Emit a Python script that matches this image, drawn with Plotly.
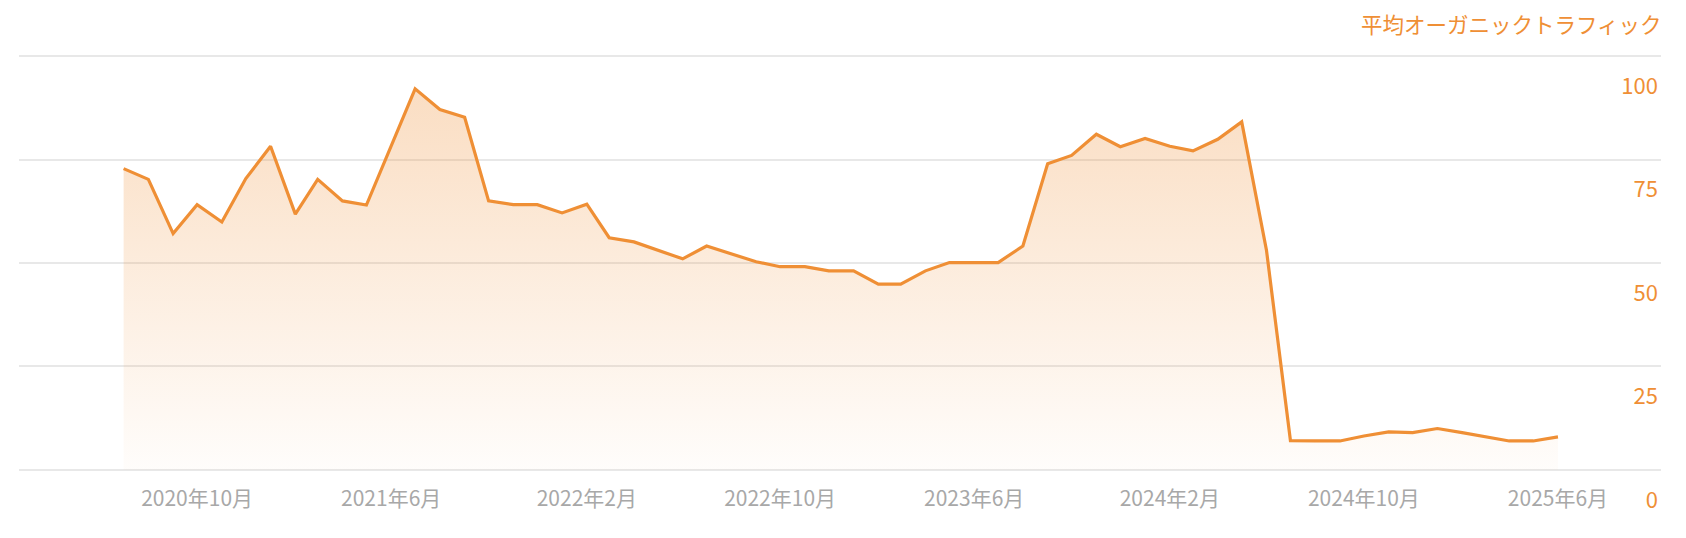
import pandas as pd
import plotly.graph_objects as go

# Monthly data, 2020-07 .. 2025-06
months = pd.date_range("2020-07-01", periods=60, freq="MS")
traffic = [72.8, 70.2, 57.1, 64.1, 59.9, 70.4, 78.2, 61.8, 70.2, 65.0,
           64.0, 78.1, 92.1, 87.1, 85.2, 65.0, 64.1, 64.1, 62.1, 64.2,
           56.1, 55.1, 53.1, 51.0, 54.1, 52.1, 50.3, 49.1, 49.1, 48.1,
           48.1, 44.9, 44.9, 48.1, 50.1, 50.1, 50.1, 54.1, 74.0, 76.0,
           81.1, 78.1, 80.1, 78.2, 77.1, 79.9, 84.1, 53.1, 7.1, 7.0,
           7.0, 8.2, 9.2, 9.0, 10.0, 9.0, 8.0, 7.0, 7.0, 8.0]

x_tickvals = ["2020-10-01", "2021-06-01", "2022-02-01", "2022-10-01",
              "2023-06-01", "2024-02-01", "2024-10-01", "2025-06-01"]
x_ticktext = ["2020年10月", "2021年6月", "2022年2月", "2022年10月",
              "2023年6月", "2024年2月", "2024年10月", "2025年6月"]
y_tickvals = [0, 25, 50, 75, 100]
title_text = "平均オーガニックトラフィック"

ORANGE = "#EF8F35"
FONT = "Noto Sans CJK JP"

fig = go.Figure()
fig.add_trace(go.Scatter(
    x=months, y=traffic, mode="lines",
    line=dict(color=ORANGE, width=3.2),
    fill="tozeroy",
    fillgradient=dict(type="vertical",
                      colorscale=[[0, "rgba(239,143,53,0.02)"],
                                  [1, "rgba(239,143,53,0.30)"]]),
    hoverinfo="skip",
))

# page body has an 8px default margin, so the figure is offset by 8px
fig.update_layout(
    width=1678, height=530,
    margin=dict(l=11, r=25, t=46, b=66, autoexpand=False),
    paper_bgcolor="white", plot_bgcolor="white",
    showlegend=False,
    font=dict(family=FONT),
    xaxis=dict(
        type="date", automargin=False,
        range=["2020-02-21", "2025-10-08"],
        tickvals=x_tickvals, ticktext=x_ticktext,
        showgrid=False, zeroline=False, showline=False,
        ticks="outside", ticklen=8, tickcolor="rgba(0,0,0,0)",
        tickfont=dict(size=21, color="#A8A8A8", family=FONT),
    ),
    yaxis=dict(
        range=[-0.5, 100.5], tickvals=y_tickvals, automargin=False,
        side="right", ticklabelposition="inside",
        ticklabelshift=30, ticklabeloverflow="allow",
        showgrid=True, gridcolor="#E8E8E8", gridwidth=2,
        zeroline=False, showline=False,
        tickfont=dict(size=22, color=ORANGE, family=FONT),
    ),
    annotations=[dict(
        text=title_text, xref="paper", yref="paper",
        x=1, y=1 + (46 - 15) / 418, xanchor="right", yanchor="middle",
        xshift=3,
        showarrow=False, font=dict(size=21.5, color=ORANGE, family=FONT),
    )],
)

fig.write_html("out.html")
